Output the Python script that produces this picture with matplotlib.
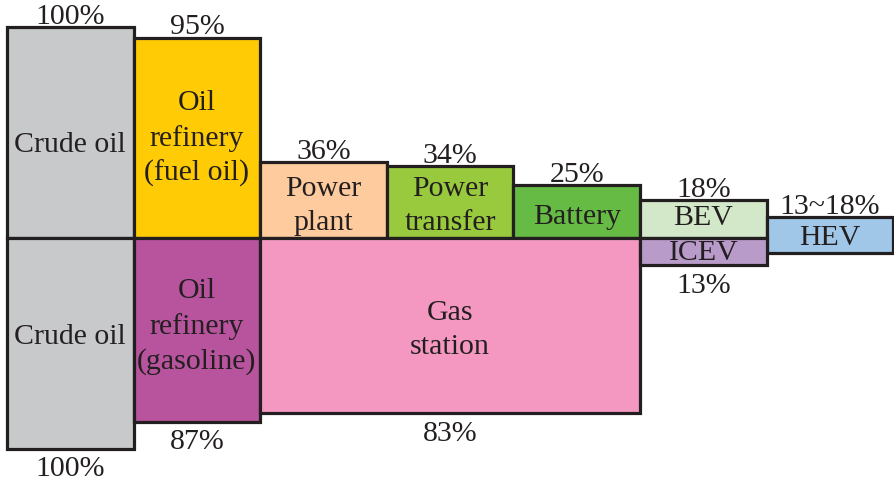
import matplotlib
matplotlib.use("Agg")
import matplotlib.pyplot as plt
from matplotlib.patches import Rectangle

# ---- data ----
block_names = ["Crude oil", "Oil\nrefinery\n(fuel oil)", "Power\nplant", "Power\ntransfer",
               "Battery", "BEV", "HEV",
               "Crude oil", "Oil\nrefinery\n(gasoline)", "Gas\nstation", "ICEV"]
block_col = [0, 1, 2, 3, 4, 5, 6, 0, 1, 2, 5]
block_span = [1, 1, 1, 1, 1, 1, 1, 1, 1, 3, 1]
block_top = [100, 95, 36, 34, 25, 18, 10, 0, 0, 0, 0]
block_bottom = [0, 0, 0, 0, 0, 0, -7, -100, -87, -83, -13]
pct_labels = ["100%", "95%", "36%", "34%", "25%", "18%", "13~18%",
              "100%", "87%", "83%", "13%"]
block_colors = ["#C8C9CB", "#FFCB05", "#FDCB9D", "#99C93C", "#66BB45", "#D3E8C8", "#A0C7E8",
                "#C8C9CB", "#B8539E", "#F498C2", "#B99BC9"]

# ---- style / layout ----
text_shift = [-6, -0.5, -3, -2, -2.5, 0.5, -1.5, 3, 1.5, -2, -0.5]

W, H, DPI = 895, 482, 100
fig = plt.figure(figsize=(W / DPI, H / DPI), dpi=DPI)
ax = fig.add_axes([0, 0, 1, 1])
colw = 126.6
x0 = 7
base = 238
ppp = 2.11  # px per percent
ax.set_xlim(-x0 / colw, (W - x0) / colw)
ax.set_ylim(-(H - base) / ppp, base / ppp)
ax.axis("off")

font = "Liberation Serif"
tcol = "#231F20"
fs = 21.5

for name, c, s, t, b, p, col, dy in zip(block_names, block_col, block_span, block_top,
                                          block_bottom, pct_labels, block_colors, text_shift):
    ax.add_patch(Rectangle((c, b), s, t - b, facecolor=col, edgecolor=tcol,
                           linewidth=2.3, joinstyle="miter"))
    cx = c + s / 2
    ax.text(cx, (t + b) / 2 + dy, name, ha="center", va="center", fontsize=fs,
            family=font, color=tcol, linespacing=1.4)
    if t > 0:
        ax.text(cx, t + 1.5, p, ha="center", va="baseline", fontsize=fs,
                family=font, color=tcol)
    else:
        ax.text(cx, b - 3.5, p, ha="center", va="top", fontsize=fs,
                family=font, color=tcol)

fig.savefig("out.png", dpi=DPI)
